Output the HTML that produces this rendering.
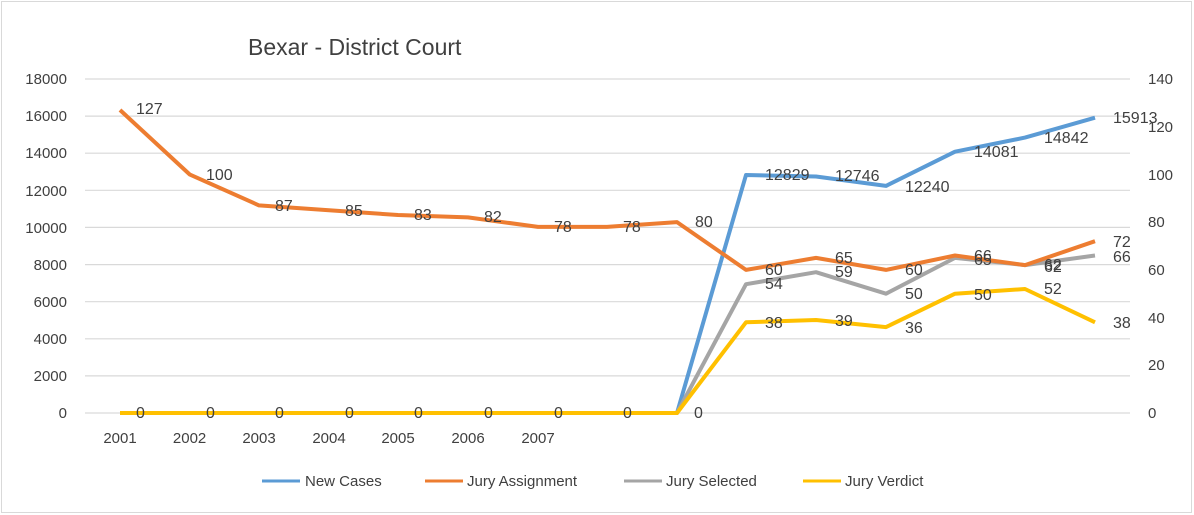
<!DOCTYPE html>
<html><head><meta charset="utf-8"><style>
html,body{margin:0;padding:0;background:#fff}
svg{display:block}
text{font-family:"Liberation Sans",sans-serif;fill:#404040}
</style></head><body>
<svg width="1194" height="515" viewBox="0 0 1194 515">
<rect x="1.5" y="1.5" width="1190" height="511" fill="#fff" stroke="#d9d9d9"/>
<text x="248" y="55" font-size="23" fill="#595959">Bexar - District Court</text>
<g stroke="#d9d9d9" stroke-width="1.2">
<line x1="85" y1="79" x2="1130" y2="79"/><line x1="85" y1="116.1" x2="1130" y2="116.1"/><line x1="85" y1="153.2" x2="1130" y2="153.2"/><line x1="85" y1="190.3" x2="1130" y2="190.3"/><line x1="85" y1="227.4" x2="1130" y2="227.4"/><line x1="85" y1="264.6" x2="1130" y2="264.6"/><line x1="85" y1="301.7" x2="1130" y2="301.7"/><line x1="85" y1="338.8" x2="1130" y2="338.8"/><line x1="85" y1="375.9" x2="1130" y2="375.9"/><line x1="85" y1="413" x2="1130" y2="413"/>
</g>
<g font-size="15" text-anchor="end">
<text x="67" y="418">0</text><text x="67" y="381">2000</text><text x="67" y="344">4000</text><text x="67" y="307">6000</text><text x="67" y="270">8000</text><text x="67" y="233">10000</text><text x="67" y="196">12000</text><text x="67" y="158">14000</text><text x="67" y="121">16000</text><text x="67" y="84">18000</text>
</g>
<g font-size="15" text-anchor="start">
<text x="1148" y="418">0</text><text x="1148" y="370">20</text><text x="1148" y="323">40</text><text x="1148" y="275">60</text><text x="1148" y="227">80</text><text x="1148" y="180">100</text><text x="1148" y="132">120</text><text x="1148" y="84">140</text>
</g>
<g font-size="15" text-anchor="middle">
<text x="120" y="443">2001</text><text x="189.6" y="443">2002</text><text x="259" y="443">2003</text><text x="329" y="443">2004</text><text x="398" y="443">2005</text><text x="468" y="443">2006</text><text x="538" y="443">2007</text>
</g>
<g fill="none" stroke-width="4" stroke-linejoin="round">
<polyline stroke="#5B9BD5" points="120,413 677,413 746,175 816,176.5 886,185.9 955,151.7 1025,137.6 1095,117.7"/>
<polyline stroke="#A5A5A5" points="120,413 677,413 746,284.2 816,272.2 886,293.7 955,257.9 1025,265.1 1095,255.5"/>
<polyline stroke="#FFC000" points="120,413 677,413 746,322.3 816,320 886,327.1 955,293.7 1025,289 1095,322.3"/>
<polyline stroke="#ED7D31" points="120,110 189.6,174.4 259,205.4 329,210.2 398,215 468,217.4 538,226.9 607,226.9 677,222.1 746,269.9 816,257.9 886,269.9 955,255.5 1025,265.1 1095,241.2"/>
</g>
<g font-size="16" dominant-baseline="middle">
<text x="136" y="110">127</text><text x="206" y="176">100</text><text x="275" y="207">87</text><text x="345" y="212">85</text><text x="414" y="216">83</text><text x="484" y="218">82</text><text x="554" y="228">78</text><text x="623" y="228">78</text><text x="695" y="223">80</text>
<text x="765" y="271">60</text><text x="835" y="259">65</text><text x="905" y="271">60</text><text x="974" y="257">66</text><text x="1044" y="266">62</text><text x="1113" y="243">72</text>
<text x="765" y="285">54</text><text x="835" y="273">59</text><text x="905" y="295">50</text><text x="974" y="261">65</text><text x="1044" y="268">62</text><text x="1113" y="258">66</text>
<text x="765" y="324">38</text><text x="835" y="322">39</text><text x="905" y="329">36</text><text x="974" y="296">50</text><text x="1044" y="290">52</text><text x="1113" y="324">38</text>
<text x="765" y="176">12829</text><text x="835" y="177">12746</text><text x="905" y="188">12240</text><text x="974" y="153">14081</text><text x="1044" y="139">14842</text><text x="1113" y="119">15913</text>
<text x="136" y="414">0</text><text x="206" y="414">0</text><text x="275" y="414">0</text><text x="345" y="414">0</text><text x="414" y="414">0</text><text x="484" y="414">0</text><text x="554" y="414">0</text><text x="623" y="414">0</text><text x="694" y="414">0</text>
</g>
<g font-size="15">
<line x1="262" y1="481" x2="300" y2="481" stroke="#5B9BD5" stroke-width="3"/><text x="305" y="486">New Cases</text>
<line x1="425" y1="481" x2="463" y2="481" stroke="#ED7D31" stroke-width="3"/><text x="467" y="486">Jury Assignment</text>
<line x1="624" y1="481" x2="662" y2="481" stroke="#A5A5A5" stroke-width="3"/><text x="666" y="486">Jury Selected</text>
<line x1="803" y1="481" x2="841" y2="481" stroke="#FFC000" stroke-width="3"/><text x="845" y="486">Jury Verdict</text>
</g>
</svg>
</body></html>
